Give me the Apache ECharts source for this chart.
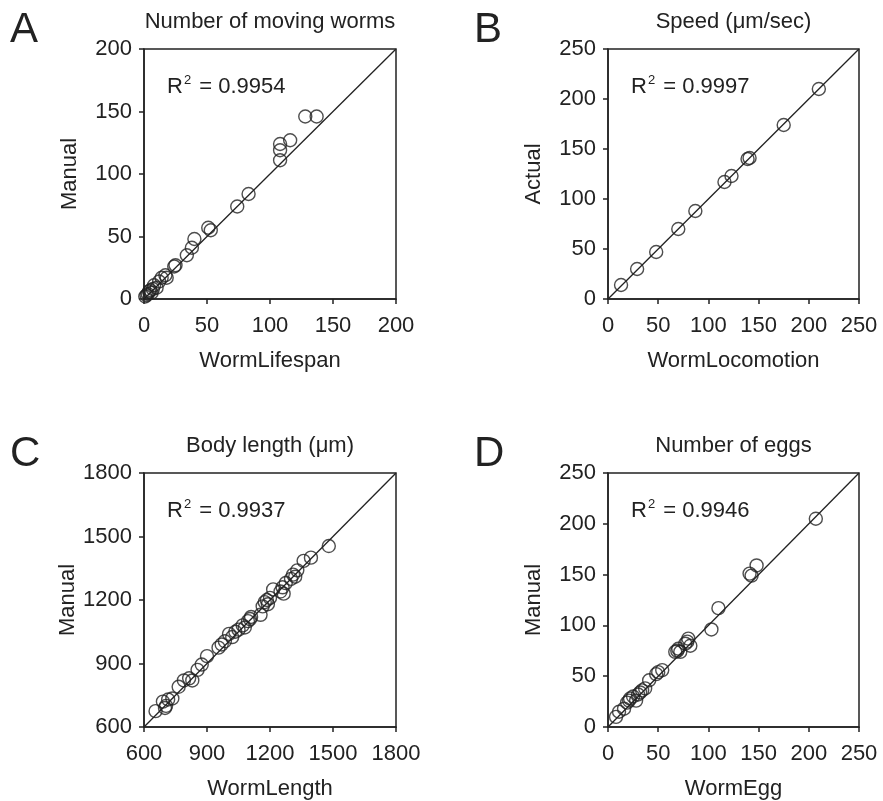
<!DOCTYPE html>
<html>
<head>
<meta charset="utf-8">
<title>Worm assay validation</title>
<script src="https://cdn.jsdelivr.net/npm/echarts@6/dist/echarts.min.js"></script>
<style>
  html, body { margin: 0; padding: 0; background: #fff; }
  #chart { width: 883px; height: 801px; }
</style>
</head>
<body>
<div id="chart"></div>
<script>
// A - number of moving worms
const lifespanX = [1, 2, 3, 4, 5, 6, 7, 8, 10, 12, 14, 17, 18, 24, 25, 34, 38, 40, 51, 53, 74, 83, 108, 108, 108, 116, 128, 137]
const lifespanY = [2, 3, 4, 6, 7, 5, 8, 11, 9, 14, 17, 19, 17, 26, 27, 35, 41, 48, 57, 55, 74, 84, 111, 119, 124, 127, 146, 146]
// B - speed
const locoX = [13, 29, 48, 70, 87, 116, 123, 139, 141, 175, 210]
const locoY = [14, 30, 47, 70, 88, 117, 123, 140, 141, 174, 210]
// C - body length
const lengthX = [655, 690, 700, 705, 715, 735, 765, 790, 815, 830, 855, 875, 900, 955, 970, 985, 1005, 1020, 1035, 1050, 1070, 1080, 1095, 1105, 1110, 1155, 1165, 1175, 1185, 1190, 1200, 1215, 1250, 1260, 1265, 1275, 1300, 1310, 1320, 1330, 1360, 1395, 1480]
const lengthY = [675, 720, 690, 700, 730, 735, 790, 820, 830, 820, 870, 895, 935, 975, 990, 1005, 1040, 1025, 1050, 1060, 1080, 1070, 1100, 1110, 1120, 1130, 1170, 1190, 1200, 1180, 1210, 1250, 1240, 1260, 1230, 1280, 1300, 1320, 1310, 1340, 1385, 1400, 1455]
// D - number of eggs
const eggX = [8, 11, 16, 19, 21, 22, 25, 28, 30, 32, 34, 37, 41, 48, 50, 54, 67, 69, 70, 72, 77, 79, 80, 82, 103, 110, 141, 143, 148, 207]
const eggY = [10, 15, 18, 24, 26, 28, 30, 26, 32, 34, 36, 38, 46, 52, 54, 56, 74, 75, 77, 74, 82, 84, 87, 80, 96, 117, 151, 149, 159, 205]

const panelLetters = ['A', 'B', 'C', 'D']
const titles = ['Number of moving worms', 'Speed (\u03bcm/sec)', 'Body length (\u03bcm)', 'Number of eggs']
const r2Values = ['0.9954', '0.9997', '0.9937', '0.9946']
const xNames = ['WormLifespan', 'WormLocomotion', 'WormLength', 'WormEgg']
const yNames = ['Manual', 'Actual', 'Manual', 'Manual']
const axisRanges = [[0, 200], [0, 250], [600, 1800], [0, 250]]
const tickSteps = [50, 50, 300, 50]

const panelX = [lifespanX, locoX, lengthX, eggX]
const panelY = [lifespanY, locoY, lengthY, eggY]

// plot boxes (px)
const boxes = [
  { left: 144, top: 49, width: 252, height: 250 },
  { left: 608, top: 49, width: 251, height: 250 },
  { left: 144, top: 473, width: 252, height: 254 },
  { left: 608, top: 473, width: 251, height: 254 },
]

const font = 'Liberation Sans, Arial, sans-serif'
const ink = '#222'

var myChart = echarts.init(document.getElementById('chart'))

const grid = boxes.map(b => ({
  ...b,
  show: true,
  borderColor: ink,
  borderWidth: 1.5,
  backgroundColor: 'transparent',
}))

const axisCommon = (i) => ({
  gridIndex: i,
  type: 'value',
  min: axisRanges[i][0],
  max: axisRanges[i][1],
  interval: tickSteps[i],
  splitLine: { show: false },
  axisLine: { show: true, lineStyle: { color: ink, width: 1.5 } },
  axisTick: { show: true, inside: false, length: 5, lineStyle: { color: ink, width: 1.5 } },
  nameLocation: 'middle',
  nameTextStyle: { fontSize: 22, fontFamily: font, color: ink },
})

// plain numbers, no thousands separator
const plain = v => String(v)

const xAxis = boxes.map((b, i) => ({
  ...axisCommon(i),
  name: xNames[i],
  nameGap: 51,
  axisLabel: { fontSize: 22, fontFamily: font, color: ink, margin: 16, formatter: plain },
}))

const yAxis = boxes.map((b, i) => ({
  ...axisCommon(i),
  name: yNames[i],
  nameGap: 63,
  nameRotate: 90,
  axisLabel: { fontSize: 22, fontFamily: font, color: ink, margin: 12, formatter: plain },
}))

const series = []
boxes.forEach((b, i) => {
  // identity line y = x across the axis range
  series.push({
    type: 'line',
    xAxisIndex: i,
    yAxisIndex: i,
    data: axisRanges[i].map(v => [v, v]),
    symbol: 'none',
    lineStyle: { color: ink, width: 1.3 },
    silent: true,
    z: 1,
  })
  series.push({
    type: 'scatter',
    xAxisIndex: i,
    yAxisIndex: i,
    data: panelX[i].map((x, k) => [x, panelY[i][k]]),
    symbol: 'circle',
    symbolSize: 13,
    clip: false,
    itemStyle: { color: 'rgba(0,0,0,0)', borderColor: ink, borderWidth: 1.4 },
    z: 2,
  })
})

const title = []
boxes.forEach((b, i) => {
  title.push({
    text: panelLetters[i],
    left: b.left - 134,
    top: b.top - 40,
    padding: 0,
    textStyle: { fontSize: 42, fontWeight: 'normal', fontFamily: font, color: ink },
  })
  title.push({
    text: titles[i],
    left: b.left + b.width / 2,
    top: b.top - 38,
    textAlign: 'center',
    padding: 0,
    textStyle: { fontSize: 22, fontWeight: 'normal', fontFamily: font, color: ink },
  })
  title.push({
    text: '{r|R}{s|2}{r| = ' + r2Values[i] + '}',
    left: b.left + 23,
    top: b.top + 25,
    padding: 0,
    textStyle: {
      fontWeight: 'normal',
      rich: {
        r: { fontSize: 22, fontWeight: 'normal', fontFamily: font, color: ink, lineHeight: 26 },
        s: { fontSize: 13, fontWeight: 'normal', fontFamily: font, color: ink, verticalAlign: 'top', padding: [0, 2, 10, 1] },
      },
    },
  })
})

const option = {
  backgroundColor: '#fff',
  animation: false,
  title: title,
  grid: grid,
  xAxis: xAxis,
  yAxis: yAxis,
  series: series,
}
option && myChart.setOption(option)
</script>
</body>
</html>
